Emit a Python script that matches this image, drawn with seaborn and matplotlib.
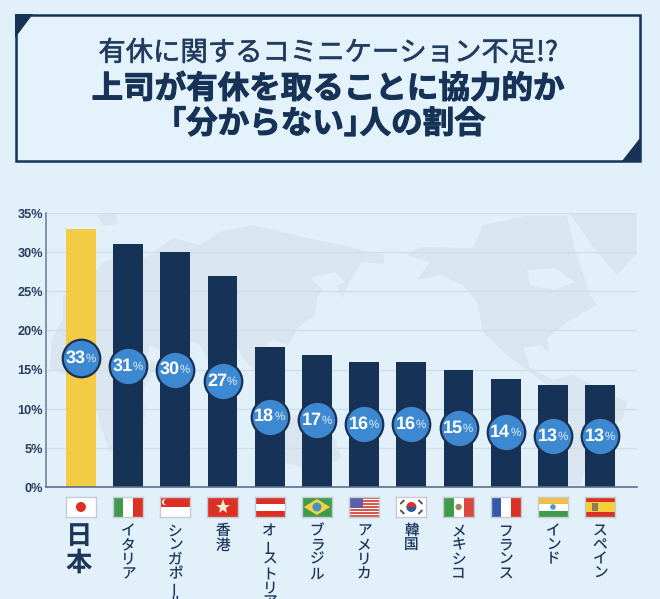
import matplotlib
matplotlib.use("Agg")
import matplotlib.pyplot as plt
import matplotlib.patheffects as pe
from matplotlib.patches import Circle, Polygon, Rectangle, Wedge
import seaborn as sns

sns.set_theme(style="white")
plt.rcParams['font.family'] = ['Noto Sans CJK JP', 'DejaVu Sans']
plt.rcParams['text.hinting'] = 'no_hinting'

# ── Data ───────────────────────────────────────────────────
countries = ["日本", "イタリア", "シンガポール", "香港", "オーストリア", "ブラジル",
             "アメリカ", "韓国", "メキシコ", "フランス", "インド", "スペイン"]
bar_values = [32.9, 31, 30, 27, 17.9, 16.9, 16, 16, 15, 13.8, 13, 13]
badge_labels = ["33", "31", "30", "27", "18", "17", "16", "16", "15", "14", "13", "13"]
flag_codes = ["jp", "it", "sg", "hk", "at", "br", "us", "kr", "mx", "fr", "in", "es"]
y_ticks = [0, 5, 10, 15, 20, 25, 30, 35]
title_lines = ["有休に関するコミニケーション不足!?", "上司が有休を取ることに協力的か", "｢分からない｣人の割合"]

BG = "#e2f0fa"
NAVY = "#163357"
TEXT = "#1c3559"
YELLOW = "#f3cb45"
BLUE = "#3d89d1"
MAP = "#d9e6f0"
RED = "#dc3025"
GREEN = "#3f9a4c"

W, H = 660, 599
fig = plt.figure(figsize=(W / 100, H / 100), dpi=100, facecolor=BG)

# ── Backdrop in pixel coordinates (title box, world map) ───
bg = fig.add_axes([0, 0, 1, 1], zorder=0)
bg.set_xlim(0, W)
bg.set_ylim(H, 0)
bg.axis("off")

bg.add_patch(Rectangle((15.5, 14.5), 624, 146, fc="#e4f2fb", ec=NAVY, lw=1.8))
bg.add_patch(Polygon([(15, 14), (33, 14), (15, 38)], fc=NAVY, ec="none"))
bg.add_patch(Polygon([(640, 161), (622, 161), (640, 138)], fc=NAVY, ec="none"))
bg.text(328, 53, title_lines[0], ha="center", va="center", fontsize=19.7, color="#223c60",
        path_effects=[pe.withStroke(linewidth=0.4, foreground="#223c60")])
bg.text(328, 89, title_lines[1], ha="center", va="center", fontsize=22.7, color=NAVY, fontweight="bold",
        path_effects=[pe.withStroke(linewidth=0.7, foreground=NAVY)])
bg.text(328, 124, title_lines[2], ha="center", va="center", fontsize=22.7, color=NAVY, fontweight="bold",
        path_effects=[pe.withStroke(linewidth=0.7, foreground=NAVY)])

land = [
    [(63, 295), (88, 283), (103, 262), (118, 258), (128, 268), (150, 255), (173, 238), (200, 245), (220, 232),
     (253, 225), (307, 238), (350, 247), (383, 255), (384, 264), (362, 262), (352, 277), (342, 298), (335, 280),
     (318, 296), (314, 316), (298, 328), (288, 345), (272, 340), (258, 352), (266, 378), (245, 362), (236, 345),
     (222, 348), (213, 370), (200, 345), (182, 338), (170, 358), (150, 345), (146, 360), (160, 362), (142, 392),
     (146, 415), (128, 445), (110, 452), (100, 425), (92, 385), (72, 378), (50, 368), (52, 340), (63, 318)],
    [(407, 255), (420, 247), (473, 248), (483, 225), (527, 216), (567, 216), (575, 250), (590, 295), (597, 305),
     (567, 322), (547, 338), (549, 352), (540, 345), (523, 348), (530, 368), (553, 380), (573, 375), (627, 402),
     (623, 418), (593, 445), (580, 485), (568, 485), (567, 438), (547, 385), (507, 355), (483, 332), (477, 302),
     (463, 285), (440, 275), (417, 280), (430, 262)],
    [(570, 214), (637, 213), (637, 253), (617, 275), (597, 252)],
    [(265, 432), (298, 415), (328, 424), (342, 458), (312, 470), (275, 460)],
    [(97, 215), (115, 213), (118, 224), (103, 226)],
]
for shape in land:
    bg.add_patch(Polygon(shape, fc=MAP, ec="none"))
# Hudson bay and Sea of Okhotsk cut back out
bg.add_patch(Polygon([(527, 270), (555, 268), (575, 282), (555, 290), (530, 285)], fc=BG, ec="none"))
bg.add_patch(Polygon([(310, 278), (335, 272), (345, 282), (325, 292)], fc=BG, ec="none"))

# ── Bar chart ──────────────────────────────────────────────
ax = fig.add_axes([46 / W, 1 - 487 / H, (637 - 46) / W, 274 / H], zorder=1)
ax.patch.set_alpha(0)
sns.barplot(x=countries, y=bar_values, hue=countries, palette=[YELLOW] + [NAVY] * 11,
            saturation=1, width=0.63, legend=False, linewidth=0, ax=ax)
ax.set_xlim(-0.74, 11.78)
ax.set_ylim(0, 35)
ax.set_yticks(y_ticks)
ax.set_yticklabels([f"{t}%" for t in y_ticks], family="Liberation Sans", fontweight="bold",
                   fontsize=9.2, color="#2a3f61")
ax.set_xticks([])
ax.tick_params(axis="y", length=0, pad=2)
ax.grid(axis="y", color="#cfdfe9", lw=1)
ax.set_axisbelow(True)
sns.despine(ax=ax)
ax.spines["left"].set_color("#71839c")
ax.spines["bottom"].set_color("#5c7190")
ax.spines["left"].set_linewidth(1.2)
ax.spines["bottom"].set_linewidth(1.2)

# Badges sit at half bar height
badge_y = [int(b) / 2 for b in badge_labels]
sns.scatterplot(x=countries, y=badge_y, s=730, color=BLUE, edgecolor="#1b3052", linewidth=1.6,
                legend=False, zorder=5, clip_on=False, ax=ax)
px = 0.72  # points per pixel at dpi 100
for i, (lab, y) in enumerate(zip(badge_labels, badge_y)):
    ax.annotate(lab, (i, y), xytext=(4.5 * px, 0), textcoords="offset points", ha="right", va="center",
                family="Liberation Sans", fontweight="bold", fontsize=13, color="white", zorder=6)
    ax.annotate("%", (i, y), xytext=(4.5 * px, -0.5), textcoords="offset points", ha="left", va="center",
                family="Liberation Sans", fontsize=8.3, color="#e6f0fa", zorder=6)


# ── Flags ──────────────────────────────────────────────────
def draw_flag(f, code):
    r = lambda x, y, w, h, c: f.add_patch(Rectangle((x, y), w, h, fc=c, ec="none"))
    if code == "jp":
        f.add_patch(Circle((15, 10), 5, fc=RED, ec="none"))
    elif code == "it":
        r(0, 0, 10, 20, GREEN)
        r(20, 0, 10, 20, RED)
    elif code == "sg":
        r(0, 10, 30, 10, RED)
        f.add_patch(Circle((5, 15), 3.2, fc="white", ec="none"))
        f.add_patch(Circle((6.5, 15), 3, fc=RED, ec="none"))
    elif code == "hk":
        r(0, 0, 30, 20, RED)
        f.plot([15], [10], marker="*", ms=11, color="#f7eccf", mew=0)
    elif code == "at":
        r(0, 0, 30, 6.5, RED)
        r(0, 13.5, 30, 6.5, RED)
    elif code == "br":
        r(0, 0, 30, 20, GREEN)
        f.add_patch(Polygon([(2, 10), (15, 18), (28, 10), (15, 2)], fc="#f5d33c", ec="none"))
        f.add_patch(Circle((15, 10), 4.5, fc="#4a8fc9", ec="none"))
    elif code == "us":
        for s in range(0, 13, 2):
            r(0, s * 20 / 13, 30, 20 / 13, "#d9584c")
        r(0, 9, 14, 11, "#5c5fa8")
    elif code == "kr":
        f.add_patch(Wedge((15, 10), 5, 0, 180, fc=RED, ec="none"))
        f.add_patch(Wedge((15, 10), 5, 180, 360, fc="#2c5ba6", ec="none"))
        for x, y in [(6, 15), (24, 15), (6, 5), (24, 5)]:
            f.plot([x - 1.5, x + 1.5], [y - 1.5, y + 1.5] if x * y in (90, 120) else [y + 1.5, y - 1.5],
                   color="#555", lw=1.4)
    elif code == "mx":
        r(0, 0, 10, 20, GREEN)
        r(20, 0, 10, 20, "#d8483e")
        f.add_patch(Circle((15, 10), 3.2, fc="#9a8a55", ec="none"))
    elif code == "fr":
        r(0, 0, 10, 20, "#3558a8")
        r(20, 0, 10, 20, RED)
    elif code == "in":
        r(0, 13.5, 30, 6.5, "#f3bd42")
        r(0, 0, 30, 6.5, GREEN)
        f.add_patch(Circle((15, 10), 2.8, fc="#4a9ad6", ec="none"))
    elif code == "es":
        r(0, 0, 30, 20, RED)
        r(0, 5, 30, 10, "#f6cd3a")
        r(7, 6, 6, 8, "#8a7a5a")


for i, code in enumerate(flag_codes):
    f = ax.inset_axes([i - 0.32, -30 / 274, 0.64, 20 / 274], transform=ax.get_xaxis_transform(), zorder=3)
    f.set_xlim(0, 30)
    f.set_ylim(0, 20)
    f.set_xticks([])
    f.set_yticks([])
    f.set_facecolor("white")
    for s in f.spines.values():
        s.set_color("#c3ccd3")
        s.set_linewidth(1)
    draw_flag(f, code)

# ── Vertical country names, one glyph per row ──────────────
for i, name in enumerate(countries):
    big = i == 0
    first, pitch = (49, 27) if big else (44, 14.3)
    for k, ch in enumerate(name):
        ax.annotate(ch, (i, 0), xycoords=ax.get_xaxis_transform(),
                    xytext=(-2 * px if big else 0, -(first + k * pitch) * px), textcoords="offset points",
                    ha="center", va="center", annotation_clip=False, color=TEXT,
                    fontsize=19 if big else 10.5, fontweight="bold" if big else "normal",
                    rotation=90 if ch == "ー" else 0)

fig.savefig("out.png", dpi=100, facecolor=BG)
